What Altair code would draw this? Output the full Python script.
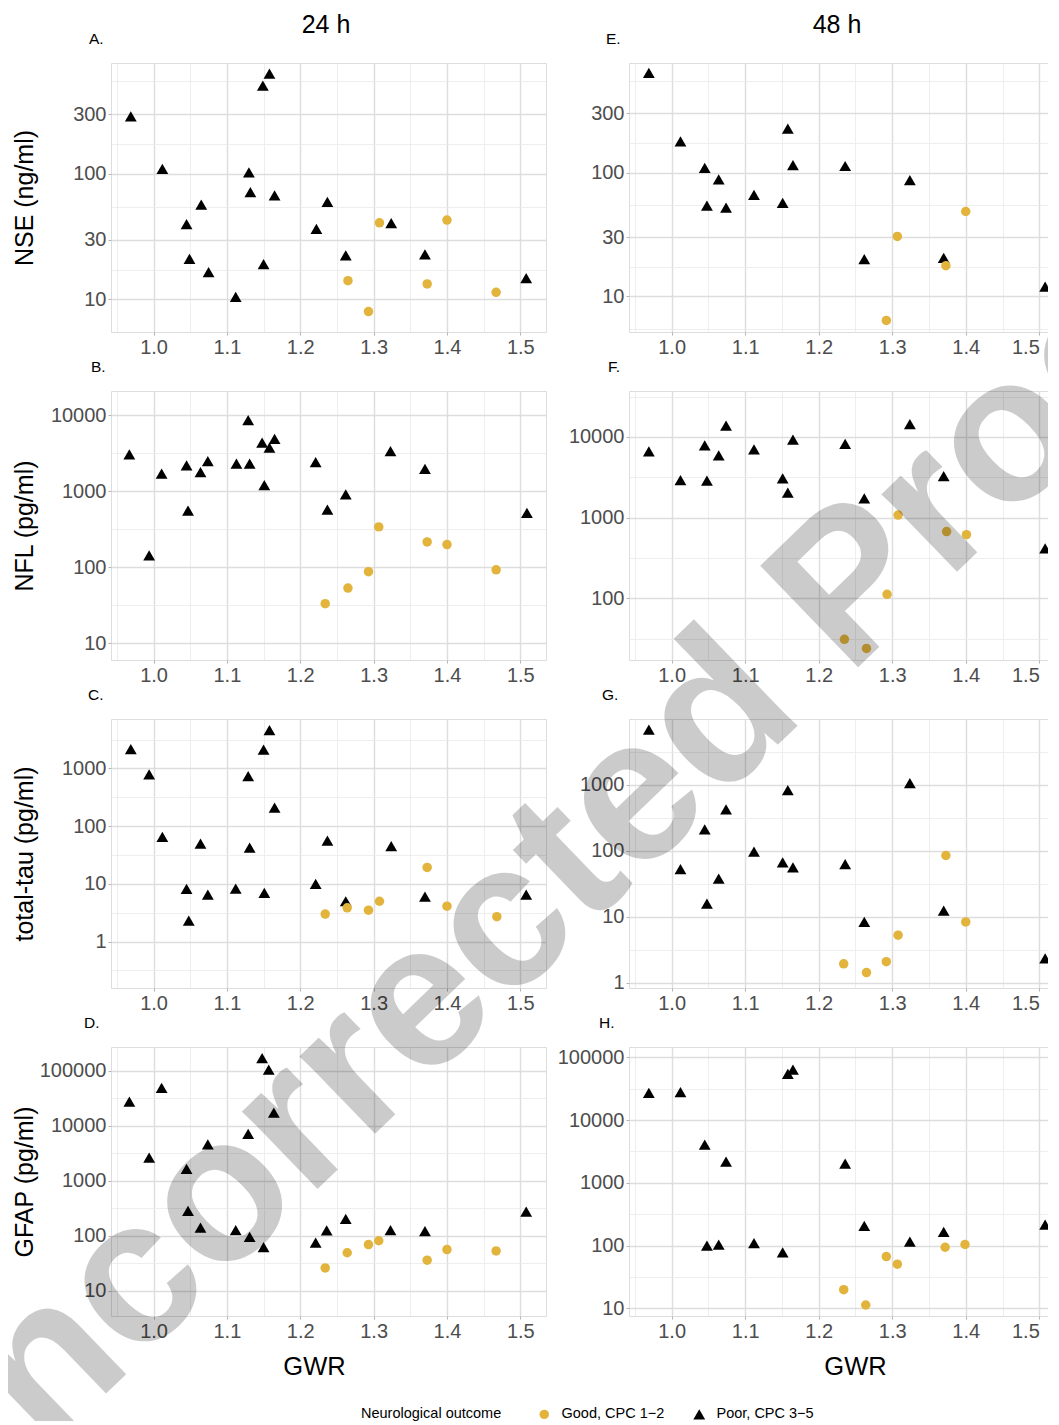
import json
import math
import altair as alt
import pandas as pd

FONT = "Liberation Sans"
GOOD = "Good, CPC 1\u22122"
POOR = "Poor, CPC 3\u22125"
GOLD = "#E2B43C"

# ---------------- 24 h ----------------
nse24_poor_gwr = [0.969, 1.012, 1.045, 1.049, 1.065, 1.075, 1.112, 1.130, 1.132, 1.149, 1.150, 1.158, 1.165, 1.222, 1.237, 1.262, 1.324, 1.370, 1.508]
nse24_poor_val = [288, 110, 39.8, 21.1, 57, 16.5, 10.5, 103, 71.8, 506, 19.1, 631, 67.5, 36.5, 60, 22.5, 40.6, 22.9, 14.8]
nse24_good_gwr = [1.265, 1.293, 1.308, 1.373, 1.400, 1.467]
nse24_good_val = [14.1, 8.0, 40.8, 13.3, 42.9, 11.4]

nfl24_poor_gwr = [0.967, 0.994, 1.011, 1.045, 1.047, 1.064, 1.074, 1.113, 1.129, 1.131, 1.148, 1.151, 1.158, 1.165, 1.221, 1.237, 1.262, 1.323, 1.370, 1.509]
nfl24_poor_val = [3030, 143, 1690, 2170, 555, 1780, 2480, 2290, 8590, 2290, 4320, 1200, 3720, 4870, 2400, 571, 902, 3360, 1960, 516]
nfl24_good_gwr = [1.234, 1.265, 1.293, 1.307, 1.373, 1.400, 1.467]
nfl24_good_val = [33, 53, 87, 338, 214, 198, 92]

tau24_poor_gwr = [0.969, 0.994, 1.012, 1.045, 1.048, 1.064, 1.074, 1.112, 1.129, 1.131, 1.150, 1.151, 1.158, 1.165, 1.221, 1.237, 1.262, 1.324, 1.370, 1.508]
tau24_poor_val = [2170, 787, 65, 8.2, 2.3, 50, 6.5, 8.3, 736, 42.5, 2110, 7.0, 4630, 210, 10, 56, 5.0, 45, 6.0, 6.5]
tau24_good_gwr = [1.234, 1.264, 1.293, 1.308, 1.373, 1.400, 1.468]
tau24_good_val = [3.0, 3.85, 3.5, 5.0, 19.3, 4.1, 2.7]

gfap24_poor_gwr = [0.967, 0.994, 1.011, 1.045, 1.047, 1.064, 1.074, 1.112, 1.129, 1.131, 1.148, 1.150, 1.157, 1.164, 1.221, 1.236, 1.262, 1.323, 1.370, 1.508]
gfap24_poor_val = [27200, 2610, 48600, 1630, 283, 140, 4540, 126, 7060, 95, 169000, 62, 104000, 17200, 75, 125, 203, 126, 121, 275]
gfap24_good_gwr = [1.234, 1.264, 1.293, 1.307, 1.373, 1.400, 1.467]
gfap24_good_val = [26, 49, 69, 81, 36, 56, 53]

# ---------------- 48 h ----------------
poor48_gwr = [0.969, 1.012, 1.045, 1.048, 1.064, 1.074, 1.112, 1.151, 1.158, 1.165, 1.236, 1.262, 1.324, 1.370, 1.508]

nse48_poor_val = [637, 179, 109, 54, 88, 52, 66, 57, 226, 115, 113, 20, 87, 20.5, 12]
nse48_good_gwr = [1.292, 1.307, 1.373, 1.400]
nse48_good_val = [6.4, 30.5, 17.7, 48.5]

nfl48_poor_val = [6600, 2910, 7830, 2860, 5910, 13800, 7000, 3050, 2040, 9270, 8200, 1730, 14400, 3260, 415]
nfl48_good_gwr = [1.235, 1.265, 1.293, 1.308, 1.374, 1.401]
nfl48_good_val = [31, 23.9, 112, 1075, 670, 615]

tau48_poor_val = [6810, 53, 211, 15.9, 38, 424, 97, 67, 826, 56, 63, 8.4, 1059, 12.4, 2.36]
tau48_good_gwr = [1.234, 1.265, 1.292, 1.308, 1.373, 1.400]
tau48_good_val = [1.95, 1.44, 2.1, 5.3, 85, 8.4]

gfap48_poor_val = [27200, 27800, 4050, 100, 104, 2180, 109, 78, 54300, 63700, 2030, 207, 116, 165, 215]
gfap48_good_gwr = [1.234, 1.264, 1.292, 1.307, 1.372, 1.399]
gfap48_good_val = [19.8, 11.3, 66.8, 50.6, 94, 104]

# axis breaks
X_MAJOR = [1.0, 1.1, 1.2, 1.3, 1.4, 1.5]
X_MINOR = [0.95, 1.05, 1.15, 1.25, 1.35, 1.45, 1.55]
BREAKS_13 = [3, 10, 30, 100, 300, 1000]
BREAKS_B = [1, 10, 100, 1000, 10000, 100000]
BREAKS_C = [0.1, 1, 10, 100, 1000, 10000]
BREAKS_D = [1, 10, 100, 1000, 10000, 100000, 1000000]

WATERMARK = "Uncorrected Proof"

# layout (plot sizes; concat bounds are flush so these fix positions)
XDOM = (0.942, 1.535)
W_LEFT = 435
W_RIGHT = 436
ROW_H = 269
COL_GAP = 83
ROW_GAP = 59
YEXT = 70

GRID_MAJ = "#DDDDDD"
GRID_MIN = "#EAEAEA"
BORDER = "#B3B3B3"
LABEL_COL = "#4D4D4D"
TICK_FS = 20
TITLE_FS = 25

LEG = alt.Legend(
    title="Neurological outcome", orient="none", legendX=250, legendY=1344,
    direction="horizontal", titleOrient="left", titleAnchor="start",
    titleFontSize=14.5, titleFont=FONT, titleFontWeight="normal", titleColor="black",
    labelFontSize=14.5, labelFont=FONT, labelColor="black",
    symbolSize=60, titlePadding=35, labelOffset=10, columnPadding=27, padding=0,
    symbolStrokeWidth=0,
)


def frame(pg, pv, gg, gv):
    return pd.DataFrame({
        "gwr": list(pg) + list(gg),
        "value": list(pv) + list(gv),
        "outcome": [POOR] * len(pg) + [GOOD] * len(gg),
    })


def cond(test, a, b):
    return {"condition": {"test": test, "value": a}, "value": b}


def text_layer(txt, x, y, size, align="left", baseline="alphabetic", **kw):
    return alt.Chart(pd.DataFrame({"t": [txt]})).mark_text(
        align=align, baseline=baseline, fontSize=size, font=FONT, color="black", **kw
    ).encode(text="t:N", x=alt.value(x), y=alt.value(y))


def panel(df, ydom, breaks, width, letter, letter_dx, ytitle=None,
          xtitle=None, xtitle_x=None, header=None, header_x=None, extra=None, flush=False):
    xdom = XDOM
    ymaj = [b for b in breaks if ydom[0] <= b <= ydom[1]]
    ymin = [round((a * b) ** 0.5, 4) for a, b in zip(breaks[:-1], breaks[1:])]
    ymin = [m for m in ymin if ydom[0] <= m <= ydom[1]]
    xmaj = [v for v in X_MAJOR if xdom[0] <= v <= xdom[1]]
    xmin = [v for v in X_MINOR if xdom[0] <= v <= xdom[1]]
    xtest = f"indexof({json.dumps(xmaj)}, datum.value) >= 0"
    ytest = f"indexof({json.dumps(ymaj)}, datum.value) >= 0"

    xkw = dict(
        values=xmaj + xmin,
        labelExpr=f"{xtest} ? format(datum.value, '.1f') : ''",
        grid=True, gridColor=cond(xtest, GRID_MAJ, GRID_MIN),
        gridWidth=cond(xtest, 1.4, 0.8), tickOpacity=cond(xtest, 1, 0),
        tickSize=3, tickColor=BORDER, domain=False,
        labelFontSize=TICK_FS, labelColor=LABEL_COL, labelFont=FONT,
        labelPadding=2, labelOverlap=False,
    )
    if flush:
        xkw["labelFlush"] = 30
    if xtitle:
        xkw.update(title=xtitle, titleFontSize=TITLE_FS + 0.5, titleFont=FONT, titleColor="black",
                   titleFontWeight="normal", titlePadding=13, titleX=xtitle_x)
    else:
        xkw["title"] = None

    ykw = dict(
        values=ymaj + ymin,
        labelExpr=f"{ytest} ? format(datum.value, 'd') : ''",
        grid=True, gridColor=cond(ytest, GRID_MAJ, GRID_MIN),
        gridWidth=cond(ytest, 1.4, 0.8), tickOpacity=cond(ytest, 1, 0),
        tickSize=3, tickColor=BORDER, domain=False,
        labelFontSize=TICK_FS, labelColor=LABEL_COL, labelFont=FONT,
        labelPadding=2, labelOverlap=False,
        minExtent=YEXT, maxExtent=YEXT,
    )
    if ytitle:
        ykw.update(title=ytitle, titleFontSize=TITLE_FS, titleFont=FONT, titleColor="black",
                   titleFontWeight="normal", titlePadding=4)
    else:
        ykw["title"] = None

    pts = alt.Chart(df).mark_point(filled=True, opacity=1, clip=True).encode(
        x=alt.X("gwr:Q", scale=alt.Scale(domain=list(xdom), nice=False, zero=False),
                axis=alt.Axis(**xkw)),
        y=alt.Y("value:Q", scale=alt.Scale(type="log", domain=list(ydom), nice=False),
                axis=alt.Axis(**ykw)),
        color=alt.Color("outcome:N", scale=alt.Scale(domain=[GOOD, POOR], range=[GOLD, "black"]),
                        legend=LEG),
        shape=alt.Shape("outcome:N", scale=alt.Scale(domain=[GOOD, POOR], range=["circle", "triangle-up"]),
                        legend=LEG),
        size=alt.Size("outcome:N", scale=alt.Scale(domain=[GOOD, POOR], range=[90, 140]), legend=None),
    )
    layers = [pts, text_layer(letter, letter_dx, -19, 15.5)]
    if header:
        layers.append(text_layer(header, header_x, -38, TITLE_FS, align="center", baseline="middle"))
    if extra is not None:
        layers.append(extra)
    return alt.layer(*layers).properties(width=width, height=ROW_H)


# ---- watermark (diagonal grey text over the whole figure) ----
WM_SIZE = 205
WM_ANGLE = 316
A_PAGE = (112, 63)                                       # wanted page position of panel A
H_ORIGIN = (W_LEFT + COL_GAP, 3 * (ROW_H + ROW_GAP))     # H plot origin relative to A
WM_REL = (587 - A_PAGE[0], 930 - A_PAGE[1])              # watermark anchor relative to A
watermark = text_layer(WATERMARK, WM_REL[0] - H_ORIGIN[0], WM_REL[1] - H_ORIGIN[1], WM_SIZE,
                       align="center", baseline="alphabetic",
                       angle=WM_ANGLE, fontWeight="bold", opacity=0.2)

# bounding box of the rotated watermark (Vega: box [-w/2,w/2] x [-0.8h,0.2h] rotated about anchor)
_bold_w = {"U": .722, "n": .611, "c": .556, "o": .611, "r": .389, "e": .556, "t": .333,
           "d": .611, " ": .278, "P": .667, "f": .333}
_w = sum(_bold_w[ch] for ch in WATERMARK) * WM_SIZE
_a = math.radians(WM_ANGLE)
_pts = []
for px in (-_w / 2, _w / 2):
    for py in (-0.8 * WM_SIZE, 0.2 * WM_SIZE):
        _pts.append((WM_REL[0] + px * math.cos(_a) - py * math.sin(_a),
                     WM_REL[1] + px * math.sin(_a) + py * math.cos(_a)))
bx1 = min(min(p[0] for p in _pts) - 1, -(YEXT + 4 + TITLE_FS))
bx2 = max(max(p[0] for p in _pts) + 1, W_LEFT + COL_GAP + W_RIGHT + 2)
by1 = min(min(p[1] for p in _pts) - 1, -51)
by2 = max(max(p[1] for p in _pts) + 1, 1360)
LEFT = math.ceil(-bx1)
TOP = math.ceil(-by1)
PAD_L = A_PAGE[0] - 8 - LEFT
PAD_T = A_PAGE[1] - 8 - TOP
CANVAS_W = 1041
CANVAS_H = 1413
PAD_R = CANVAS_W - LEFT - math.ceil(bx2) - PAD_L
PAD_B = CANVAS_H - TOP - math.ceil(by2) - PAD_T

A = panel(frame(nse24_poor_gwr, nse24_poor_val, nse24_good_gwr, nse24_good_val), (5.5, 767), BREAKS_13,
          W_LEFT, "A.", -22, ytitle="NSE (ng/ml)", header="24 h", header_x=215)
B = panel(frame(nfl24_poor_gwr, nfl24_poor_val, nfl24_good_gwr, nfl24_good_val), (6.0, 20700), BREAKS_B,
          W_LEFT, "B.", -20, ytitle="NFL (pg/ml)")
C = panel(frame(tau24_poor_gwr, tau24_poor_val, tau24_good_gwr, tau24_good_val), (0.157, 7190), BREAKS_C,
          W_LEFT, "C.", -23, ytitle="total-tau (pg/ml)")
D = panel(frame(gfap24_poor_gwr, gfap24_poor_val, gfap24_good_gwr, gfap24_good_val), (3.48, 268000), BREAKS_D,
          W_LEFT, "D.", -27, ytitle="GFAP (pg/ml)", xtitle="GWR", xtitle_x=203)

E = panel(frame(poor48_gwr, nse48_poor_val, nse48_good_gwr, nse48_good_val), (5.16, 767), BREAKS_13,
          W_RIGHT, "E.", -23, header="48 h", header_x=208, flush=True)
F = panel(frame(poor48_gwr, nfl48_poor_val, nfl48_good_gwr, nfl48_good_val), (17.2, 37000), BREAKS_D,
          W_RIGHT, "F.", -21, flush=True)
G = panel(frame(poor48_gwr, tau48_poor_val, tau48_good_gwr, tau48_good_val), (0.84, 9890), BREAKS_C,
          W_RIGHT, "G.", -27, flush=True)
H = panel(frame(poor48_gwr, gfap48_poor_val, gfap48_good_gwr, gfap48_good_val), (7.55, 146000), BREAKS_D,
          W_RIGHT, "H.", -30, xtitle="GWR", xtitle_x=226, extra=watermark, flush=True)

chart = alt.concat(
    A, E, B, F, C, G, D, H, columns=2,
    spacing={"row": ROW_GAP, "column": COL_GAP}, bounds="flush",
).resolve_scale(x="independent", y="independent", color="shared", shape="shared", size="shared")

chart = chart.properties(
    padding={"left": PAD_L, "top": PAD_T, "right": PAD_R, "bottom": PAD_B}, background="white"
).configure_view(stroke=BORDER, strokeWidth=1.5).configure(font=FONT)

chart.save("out.html", embed_options={"renderer": "svg", "actions": False})
